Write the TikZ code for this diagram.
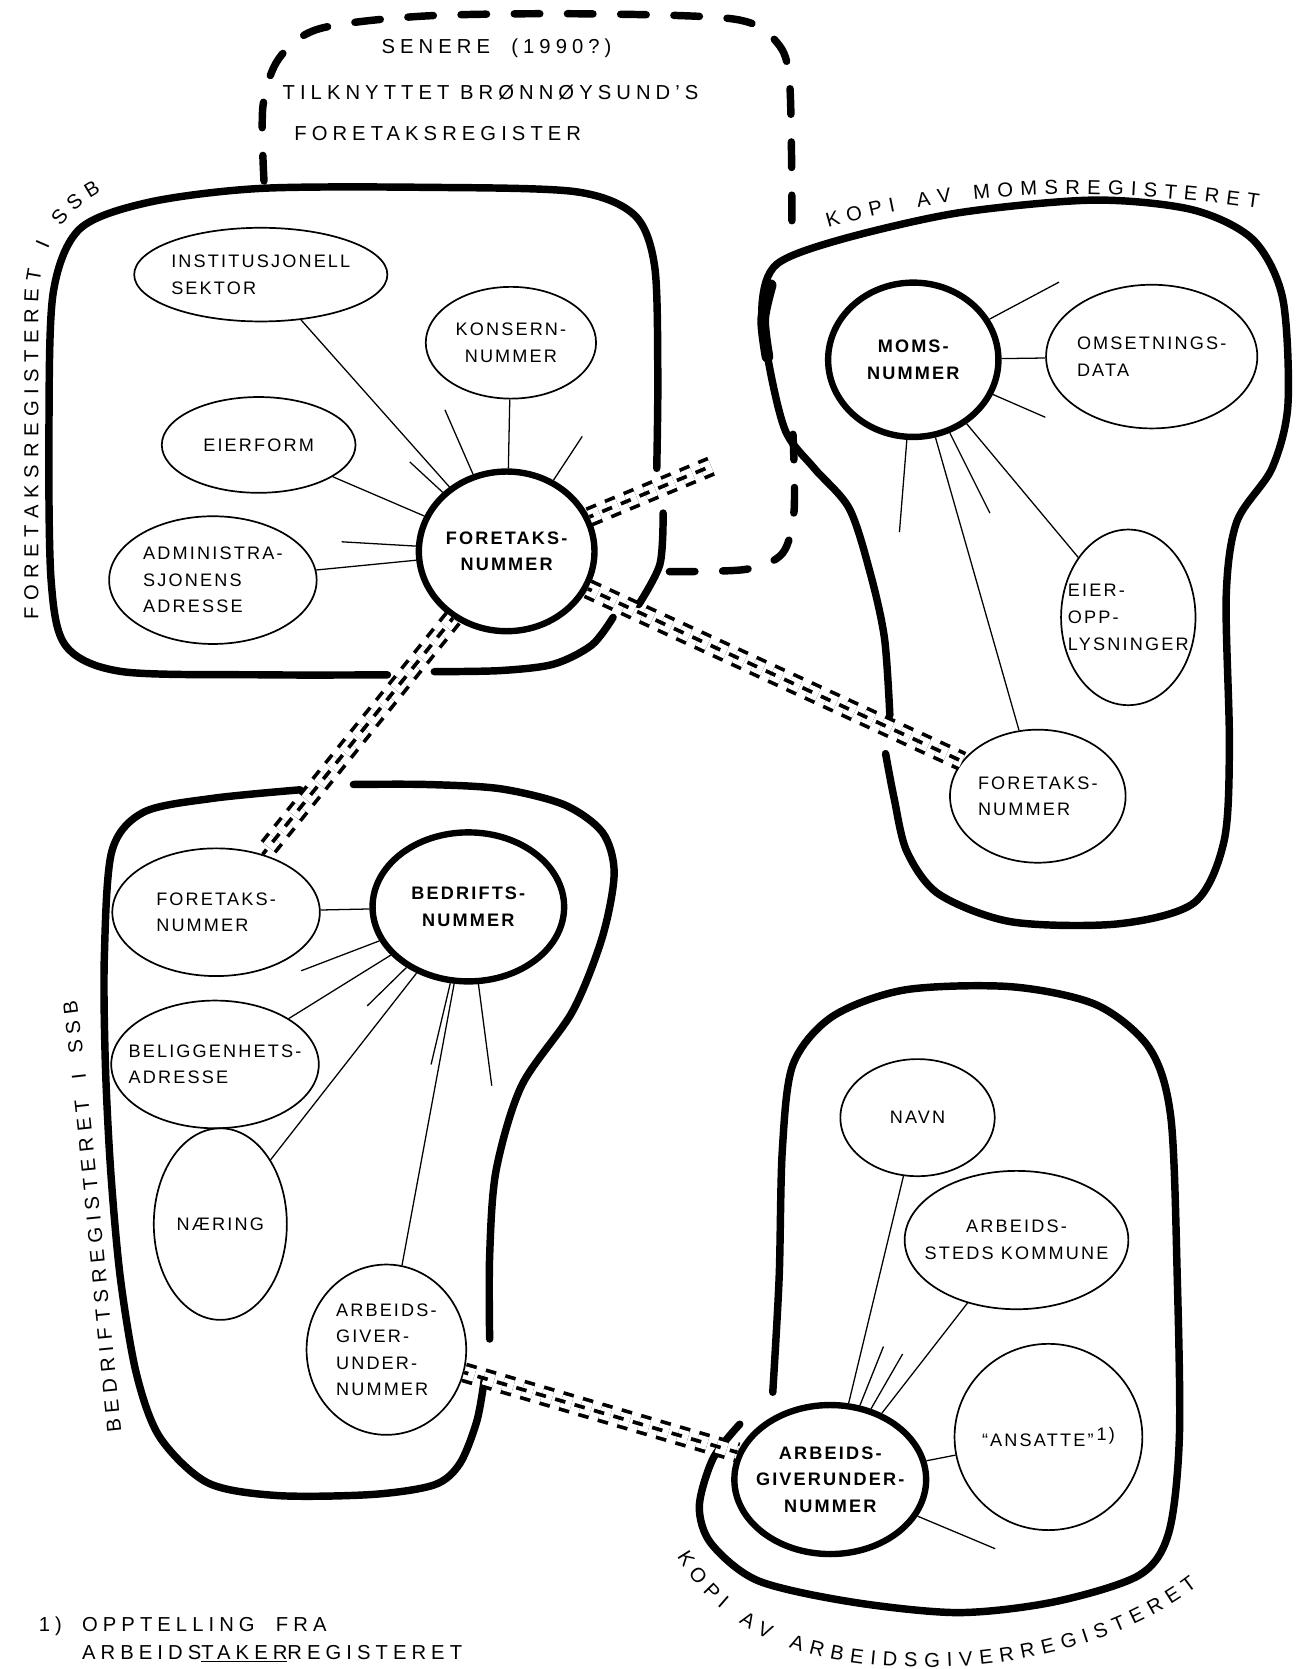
\documentclass[tikz,border=0pt]{standalone}
\usepackage{fontspec}
\setmainfont[LetterSpace=12]{Liberation Sans}
\usetikzlibrary{shapes.geometric,decorations.text}

\newcommand{\tripleline}[2]{%
  \draw[linkouter] (#1) -- (#2);
  \draw[linkmid] (#1) -- (#2);}

\begin{document}
\begin{tikzpicture}[x=1pt,y=-1pt,
    every node/.style={font=\fontsize{17}{25}\selectfont},
    bigtext/.style={font=\fontsize{19}{27}\selectfont\addfontfeature{LetterSpace=25}},
    keynode/.style={ellipse, draw, line width=6pt, inner sep=0pt, align=center, font=\fontsize{17}{25}\selectfont\bfseries},
    attrnode/.style={ellipse, draw, line width=1.6pt, inner sep=0pt, align=center},
    conn/.style={line width=1.2pt},
    regionline/.style={line width=7pt, line cap=round},
    dashloop/.style={line width=7pt, line cap=round, dash pattern=on 24pt off 26pt},
    linkouter/.style={line width=3.5pt, double distance=12pt, dash pattern=on 10pt off 9pt},
    linkmid/.style={line width=3.5pt, dash pattern=on 10pt off 9pt, dash phase=6pt},
    curvelabel/.style={decorate, decoration={text along path, text align={fit to path},
      text={|\fontsize{19}{20}\selectfont|#1}}}]
\useasboundingbox (0,0) rectangle (1222,1568);

% dashed loop (later: Bronnoysund)
\draw[dashloop] plot[smooth] coordinates {(248,170) (247,100) (262,55) (300,27) (400,15) (550,13) (690,18) (730,40) (742,80) (744,218)};
\draw[dashloop] plot[smooth] coordinates {(745,408) (746,480) (735,520) (700,535) (625,537)};
\node[bigtext, anchor=west] (senere) at (355,45) {SENERE \ (1990?)};
\node[bigtext, anchor=west] (tilkn) at (262,87) {TILKNYTTET BRØNNØYSUND'S};
\node[bigtext, anchor=west] (foreg) at (273,125) {FORETAKSREGISTER};

% regions
\draw[regionline] plot[smooth] coordinates {(364,634) (250,634) (115,631) (62,607) (48,545) (46,400) (50,275) (75,215) (140,190) (245,177) (400,176) (540,180) (596,202) (615,250) (618,350) (617,440)};
\draw[regionline] plot[smooth] coordinates {(623,482) (620,530) (600,568)};
\draw[regionline] plot[smooth] coordinates {(576,580) (556,606) (520,624) (470,630) (408,631)};

\draw[regionline] plot[smooth] coordinates {(836,672) (831,600) (818,540) (798,478) (765,440) (738,405) (722,340) (716,285) (730,248) (790,225) (900,200) (1027,188) (1120,197) (1177,225) (1205,280) (1210,380) (1195,440) (1162,490) (1152,560) (1155,700) (1150,790) (1122,848) (1050,868) (950,866) (882,840) (852,800) (840,750) (832,708)};
\draw[line width=11pt, line cap=round] plot[smooth] coordinates {(724,268) (717,300) (721,335)};

\draw[regionline] plot[smooth] coordinates {(282,742) (200,750) (135,763) (105,800) (98,900) (99,1000) (104,1100) (113,1200) (128,1290) (150,1350) (195,1393) (260,1405) (350,1404) (408,1395) (432,1375) (448,1335) (455,1296)};
\draw[regionline] plot[smooth] coordinates {(460,1258) (460,1180) (466,1100) (490,1020) (538,950) (566,880) (577,820) (566,782) (530,756) (470,741) (400,737) (332,737)};

\draw[regionline] plot[smooth] coordinates {(726,1308) (732,1200) (735,1080) (745,1000) (782,955) (850,930) (950,927) (1030,944) (1080,985) (1100,1050) (1106,1200) (1108,1350) (1098,1440) (1070,1480) (990,1505) (900,1515) (800,1505) (712,1485) (668,1450) (657,1415) (670,1370) (695,1338)};

% region labels
\path[curvelabel={FORETAKSREGISTERET I SSB}] (36,582) -- (36,285) .. controls (36,235) and (58,200) .. (95,180);
\path[curvelabel={BEDRIFTSREGISTERET I SSB}] (114,1345) .. controls (102,1230) and (88,1060) .. (72,940);
\path[curvelabel={KOPI AV MOMSREGISTERET}] (778,214) .. controls (880,185) and (1000,170) .. (1182,196);
\path[curvelabel={KOPI AV ARBEIDSGIVERREGISTERET}] (636,1462) .. controls (670,1520) and (730,1562) .. (850,1566) .. controls (960,1570) and (1060,1540) .. (1125,1490);

% key numbers
\node[keynode, minimum width=165pt, minimum height=150pt] (fnr) at (476,518) {FORETAKS-\\NUMMER};
\node[keynode, minimum width=160pt, minimum height=145pt] (moms) at (858,338) {MOMS-\\NUMMER};
\node[keynode, minimum width=180pt, minimum height=140pt] (bnr) at (440,852) {BEDRIFTS-\\NUMMER};
\node[keynode, minimum width=175pt, minimum height=140pt, inner xsep=-6pt] (agnr) at (780,1390) {ARBEIDS-\\GIVERUNDER-\\NUMMER};

% attributes
\node[attrnode, minimum width=225pt, minimum height=88pt, align=left] (inst) at (245,258) {INSTITUSJONELL\\SEKTOR};
\node[attrnode, minimum width=160pt, minimum height=105pt] (kons) at (480,322) {KONSERN-\\NUMMER};
\node[attrnode, minimum width=182pt, minimum height=90pt] (eierf) at (243,418) {EIERFORM};
\node[attrnode, minimum width=195pt, minimum height=120pt, align=left] (adm) at (200,545) {ADMINISTRA-\\SJONENS\\ADRESSE};
\node[attrnode, minimum width=180pt, minimum height=135pt, align=left] (oms) at (1082,335) {OMSETNINGS-\\DATA};
\node[attrnode, minimum width=125pt, minimum height=165pt, inner xsep=-12pt, align=left] (eopp) at (1060,580) {EIER-\\OPP-\\LYSNINGER};
\node[attrnode, minimum width=165pt, minimum height=125pt, align=left] (fnrmoms) at (975,748) {FORETAKS-\\NUMMER};
\node[attrnode, minimum width=195pt, minimum height=120pt, align=left] (fnrbed) at (203,857) {FORETAKS-\\NUMMER};
\node[attrnode, minimum width=195pt, minimum height=120pt, inner xsep=-15pt, align=left] (bel) at (202,1000) {BELIGGENHETS-\\ADRESSE};
\node[attrnode, minimum width=125pt, minimum height=180pt] (naer) at (207,1150) {NÆRING};
\node[attrnode, minimum width=150pt, minimum height=160pt, align=left] (agnrbed) at (363,1268) {ARBEIDS-\\GIVER-\\UNDER-\\NUMMER};
\node[attrnode, minimum width=145pt, minimum height=110pt] (navn) at (862,1050) {NAVN};
\node[attrnode, minimum width=195pt, minimum height=130pt, inner xsep=-12pt] (steds) at (955,1165) {ARBEIDS-\\STEDS KOMMUNE};
\node[attrnode, minimum width=165pt, minimum height=175pt] (ans) at (985,1350) {``ANSATTE''\,\raisebox{6pt}{1)}};

% connectors
\draw[conn] (fnr) -- (inst);
\draw[conn] (fnr) -- (kons);
\draw[conn] (fnr) -- (eierf);
\draw[conn] (fnr) -- (adm);
\coordinate (f1) at (418,385);
\coordinate (f2) at (385,434);
\coordinate (f3) at (321,509);
\coordinate (f4) at (547,410);
\foreach \c in {f1,f2,f3,f4} \draw[conn] (fnr) -- (\c);

\draw[conn] (moms) -- (oms);
\draw[conn] (moms) -- (eopp);
\draw[conn] (moms) -- (fnrmoms);
\coordinate (m1) at (995,265);
\coordinate (m2) at (982,392);
\coordinate (m3) at (845,500);
\coordinate (m4) at (930,482);
\foreach \c in {m1,m2,m3,m4} \draw[conn] (moms) -- (\c);

\draw[conn] (bnr) -- (fnrbed);
\draw[conn] (bnr) -- (bel);
\draw[conn] (bnr) -- (naer);
\draw[conn] (bnr) -- (agnrbed);
\coordinate (b1) at (283,912);
\coordinate (b2) at (345,945);
\coordinate (b3) at (405,1000);
\coordinate (b4) at (462,1020);
\foreach \c in {b1,b2,b3,b4} \draw[conn] (bnr) -- (\c);

\draw[conn] (agnr) -- (navn);
\draw[conn] (agnr) -- (steds);
\draw[conn] (agnr) -- (ans);
\coordinate (a1) at (830,1265);
\coordinate (a2) at (848,1272);
\coordinate (a3) at (935,1455);
\foreach \c in {a1,a2,a3} \draw[conn] (agnr) -- (\c);

% links between registers
\coordinate (mfree) at (668,438);
\tripleline{fnr}{mfree}
\tripleline{fnr}{fnrmoms}
\tripleline{fnr}{fnrbed}
\tripleline{agnrbed}{agnr}

% footnote
\node[bigtext, anchor=north west] (note) at (33,1510) {\begin{tabular}{@{}l@{\quad}l@{}}1) & OPPTELLING \ FRA\\ & ARBEIDS\underline{TAKER}REGISTERET\end{tabular}};
\end{tikzpicture}
\end{document}
